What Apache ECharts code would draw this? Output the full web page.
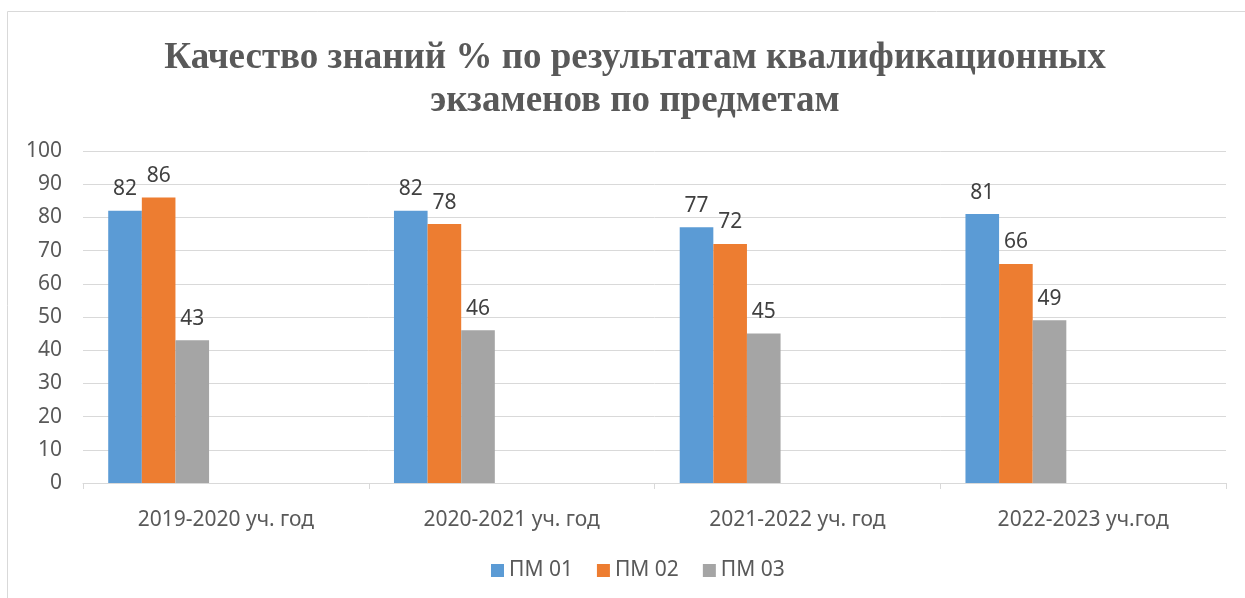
<!DOCTYPE html>
<html>
<head>
<meta charset="utf-8">
<script src="https://cdn.jsdelivr.net/npm/echarts@6/dist/echarts.min.js"></script>
<style>
html,body{margin:0;padding:0;background:#fff;}
#chart{width:1245px;height:598px;}
</style>
</head>
<body>
<div id="chart"></div>
<script>
var titleText = 'Качество знаний % по результатам квалификационных\nэкзаменов по предметам';
var categories = ['2019-2020 уч. год', '2020-2021 уч. год', '2021-2022 уч. год', '2022-2023 уч.год'];
var seriesNames = ['ПМ 01', 'ПМ 02', 'ПМ 03'];
var pm01 = [82, 82, 77, 81];
var pm02 = [86, 78, 72, 66];
var pm03 = [43, 46, 45, 49];
var yTicks = [0, 10, 20, 30, 40, 50, 60, 70, 80, 90, 100];
var colors = ['#5b9bd5', '#ed7d31', '#a5a5a5'];

var chart = echarts.init(document.getElementById('chart'));
var font = '"Noto Sans", sans-serif';
function barSeries(name, data, color) {
  return {
    name: name, type: 'bar', data: data,
    barGap: '0%', barCategoryGap: '17.65%',
    itemStyle: {color: color},
    label: {show: true, position: 'top', distance: 11, color: '#404040', fontSize: 21, fontFamily: font},
    animation: false
  };
}
var series = [
  barSeries(seriesNames[0], pm01, colors[0]),
  barSeries(seriesNames[1], pm02, colors[1]),
  barSeries(seriesNames[2], pm03, colors[2])
];
// empty placeholder slots (Excel layout reserves room for more series)
for (var i = 0; i < 4; i++) {
  series.push({name: 'empty' + i, type: 'bar', data: [], barGap: '0%', barCategoryGap: '17.65%', animation: false});
}

chart.setOption({
  animation: false,
  graphic: [{
    type: 'rect', shape: {x: 7.5, y: 11.5, width: 1300, height: 700},
    style: {fill: 'none', stroke: '#d9d9d9', lineWidth: 1}, silent: true
  }],
  title: {
    text: titleText, left: 630, top: 32, textAlign: 'center',
    textStyle: {fontFamily: '"Liberation Serif", serif', fontWeight: 'bold', fontSize: 37, lineHeight: 43, color: '#595959'}
  },
  legend: {
    data: seriesNames, bottom: 12, left: 486,
    itemWidth: 13, itemHeight: 13, itemGap: 24, icon: 'rect',
    textStyle: {fontFamily: font, fontSize: 21, color: '#595959'}
  },
  grid: {left: 83, right: 19, top: 151, bottom: 115, containLabel: false},
  xAxis: {
    type: 'category', data: categories,
    axisLine: {lineStyle: {color: '#d9d9d9'}},
    axisTick: {show: true, length: 6, lineStyle: {color: '#d9d9d9'}},
    axisLabel: {fontFamily: font, fontSize: 21, color: '#595959', margin: 27}
  },
  yAxis: {
    type: 'value', min: yTicks[0], max: yTicks[yTicks.length - 1], interval: 10,
    axisLine: {show: false}, axisTick: {show: false},
    splitLine: {lineStyle: {color: '#d9d9d9', width: 1}},
    axisLabel: {fontFamily: font, fontSize: 21, color: '#595959', margin: 21}
  },
  series: series
});
</script>
</body>
</html>
